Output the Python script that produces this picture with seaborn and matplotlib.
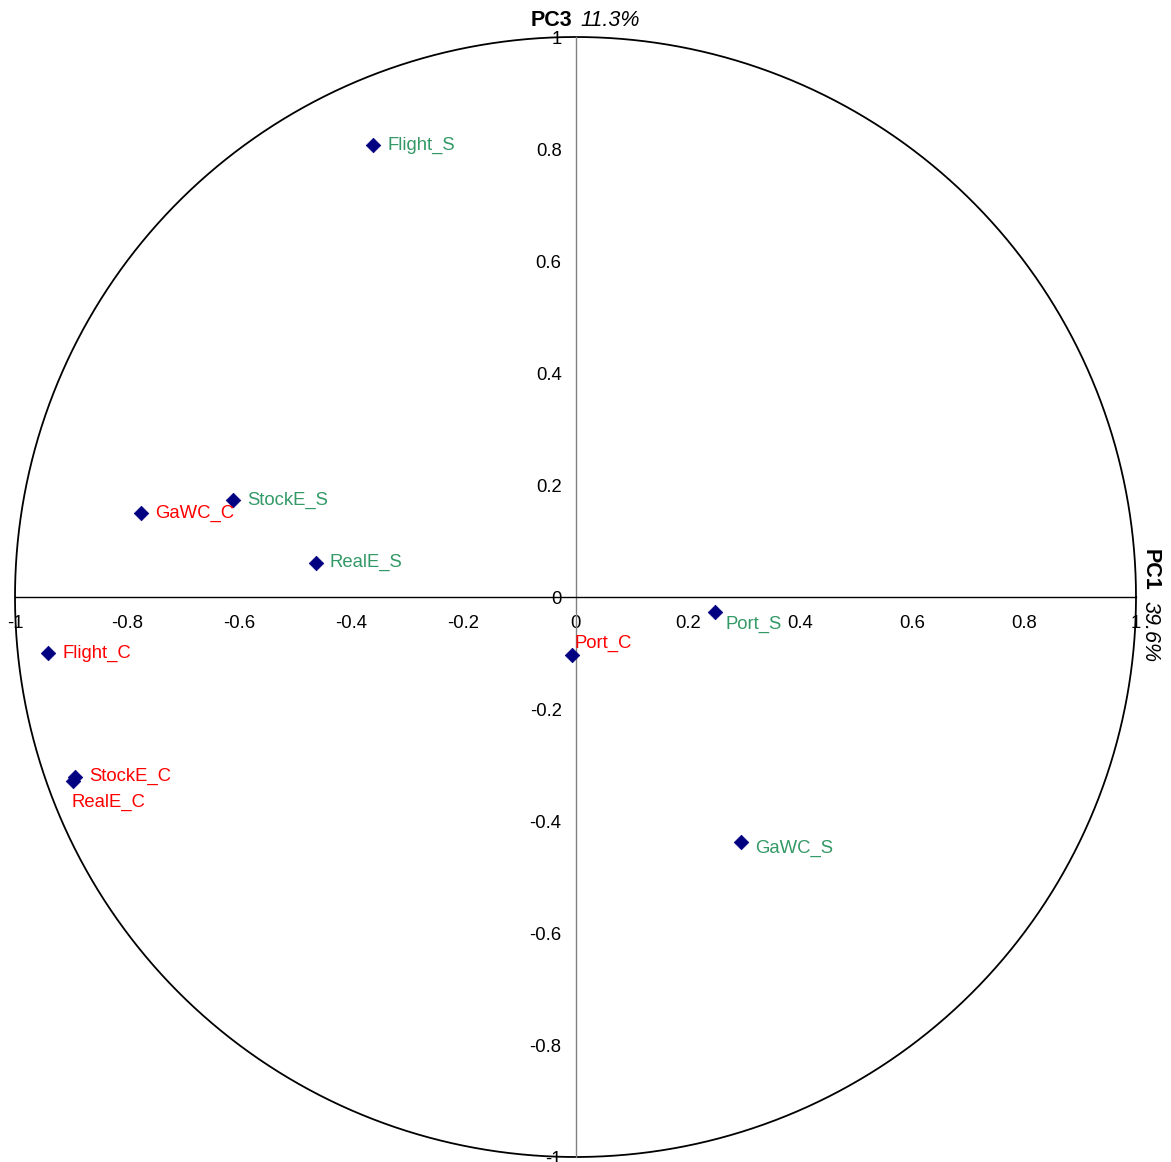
import numpy as np
import pandas as pd
import matplotlib
matplotlib.use("Agg")
import matplotlib.pyplot as plt
import seaborn as sns

# ---- data ----
names = ["Flight_S", "StockE_S", "GaWC_C", "RealE_S", "Port_S", "Port_C",
         "Flight_C", "StockE_C", "RealE_C", "GaWC_S"]
pc1 = [-0.361, -0.611, -0.775, -0.463, 0.248, -0.007, -0.941, -0.893, -0.896, 0.296]
pc3 = [0.807, 0.173, 0.150, 0.061, -0.027, -0.104, -0.100, -0.321, -0.329, -0.4375]
groups = ["S", "S", "C", "S", "S", "C", "C", "C", "C", "S"]
ticks = [-1, -0.8, -0.6, -0.4, -0.2, 0, 0.2, 0.4, 0.6, 0.8, 1]
tick_labels = ["-1", "-0.8", "-0.6", "-0.4", "-0.2", "0", "0.2", "0.4", "0.6", "0.8", "1"]

df = pd.DataFrame({"name": names, "PC1": pc1, "PC3": pc3, "group": groups})

sns.set_style("white")
plt.rcParams["font.family"] = ["Liberation Sans", "DejaVu Sans"]
plt.rcParams["text.color"] = "black"
plt.rcParams["xtick.color"] = "black"
plt.rcParams["ytick.color"] = "black"

W, H = 1171, 1162
fig = plt.figure(figsize=(W / 100, H / 100), dpi=100)
ax = fig.add_axes([15 / W, (H - 1157) / H, 1121 / W, 1120 / H])
ax.set_xlim(-1, 1)
ax.set_ylim(-1, 1)

# circle
th = np.linspace(0, 2 * np.pi, 600)
ax.plot(np.cos(th), np.sin(th), color="black", lw=1.3, clip_on=False, zorder=2)

sns.scatterplot(data=df, x="PC1", y="PC3", marker="D", color="#000080",
                s=55, edgecolor="#000080", linewidth=0.5, ax=ax, zorder=5,
                clip_on=False, legend=False)

label_colors = {"C": "#FF0000", "S": "#339966"}
offsets = {"RealE_C": (-2, -21), "Port_C": (3, 12), "Port_S": (11, -12),
           "GaWC_S": (14, -6)}
for n, x, y, g in zip(names, pc1, pc3, groups):
    dx, dy = offsets.get(n, (14, 0))
    ax.annotate(n, (x, y), xytext=(dx * 0.72, dy * 0.72), textcoords="offset points",
                color=label_colors[g], fontsize=13.3, ha="left", va="center", zorder=6)

# axes through origin
for s in ["top", "right"]:
    ax.spines[s].set_visible(False)
ax.spines["left"].set_position("zero")
ax.spines["bottom"].set_position("zero")
ax.spines["left"].set_color("#808080")
ax.spines["bottom"].set_color("black")
ax.spines["left"].set_linewidth(1.0)
ax.spines["bottom"].set_linewidth(1.0)
ax.set_xticks(ticks)
ax.set_xticklabels(tick_labels)
ax.set_yticks(ticks)
ax.set_yticklabels(tick_labels)
ax.tick_params(axis="x", direction="out", length=4, width=0.8,
               labelsize=13.3, pad=9, labelcolor="black")
ax.tick_params(axis="y", direction="out", length=4, width=0.8,
               labelsize=13.3, pad=6, labelcolor="black")
ax.set_xlabel("")
ax.set_ylabel("")

# axis titles
fig.text(572 / W, 1 - 21 / H, "PC3", ha="right", va="center",
         fontsize=15.5, fontweight="bold", color="black")
fig.text(580 / W, 1 - 21 / H, "11.3%", ha="left", va="center",
         fontsize=15.5, fontstyle="italic", color="black")
fig.text(1150 / W, 1 - 570 / H, "PC1", rotation=270, ha="center", va="center",
         fontsize=15.5, fontweight="bold", color="black")
fig.text(1150 / W, 1 - 601 / H, "39.6%", rotation=270, ha="center", va="top",
         fontsize=15.5, fontstyle="italic", color="black")

fig.savefig("out.png", dpi=100)
